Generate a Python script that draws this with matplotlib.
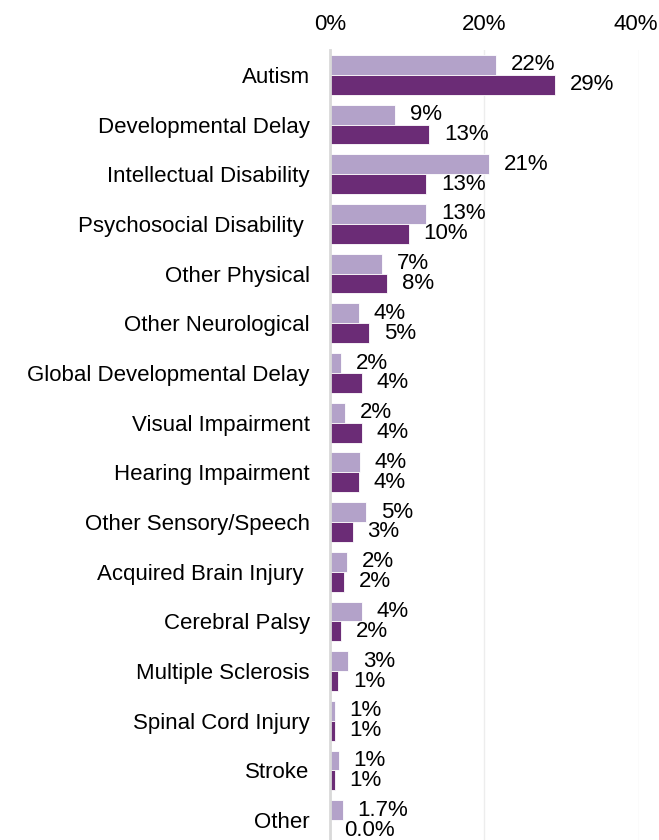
import matplotlib
matplotlib.use("Agg")
import matplotlib.pyplot as plt
import matplotlib.transforms as mtransforms

plt.rcParams['font.family'] = ['Liberation Sans', 'DejaVu Sans']

categories = ["Autism", "Developmental Delay", "Intellectual Disability",
              "Psychosocial Disability ", "Other Physical", "Other Neurological",
              "Global Developmental Delay", "Visual Impairment", "Hearing Impairment",
              "Other Sensory/Speech", "Acquired Brain Injury ", "Cerebral Palsy",
              "Multiple Sclerosis", "Spinal Cord Injury", "Stroke", "Other"]
series_a = [21.5, 8.5, 20.6, 12.5, 6.8, 3.8, 1.5, 2.0, 3.9, 4.7, 2.3, 4.2, 2.4, 0.65, 1.2, 1.7]
series_b = [29.2, 12.9, 12.5, 10.2, 7.4, 5.1, 4.2, 4.2, 3.8, 3.0, 1.9, 1.5, 1.1, 0.7, 0.7, 0.0]
labels_a = ["22%", "9%", "21%", "13%", "7%", "4%", "2%", "2%", "4%", "5%", "2%", "4%", "3%", "1%", "1%", "1.7%"]
labels_b = ["29%", "13%", "13%", "10%", "8%", "5%", "4%", "4%", "4%", "3%", "2%", "2%", "1%", "1%", "1%", "0.0%"]
xticks = [0, 20, 40]
xticklabels = ["0%", "20%", "40%"]

light = "#B3A2C9"
dark = "#6B2C76"

fig = plt.figure(figsize=(6.59, 8.4), dpi=100)
ax = fig.add_axes([329.7 / 659, 0.0, (639 - 329.7) / 659, 1 - 50 / 840])

h = 0.4
ys = list(range(len(categories)))
ya = [y - h / 2 for y in ys]
yb = [y + h / 2 for y in ys]
ax.barh(ya, series_a, height=h, color=light, edgecolor="white", linewidth=0.6, zorder=3)
ax.barh(yb, series_b, height=h, color=dark, edgecolor="white", linewidth=0.6, zorder=3)

fs = 16
for y, v, t in zip(ya, series_a, labels_a):
    ax.annotate(t, (v, y), xytext=(10.5, 0), textcoords="offset points",
                ha="left", va="center", fontsize=fs, color="#000000")
for y, v, t in zip(yb, series_b, labels_b):
    ax.annotate(t, (v, y), xytext=(10.5, 0), textcoords="offset points",
                ha="left", va="center", fontsize=fs, color="#000000")

ax.set_xlim(0, 40)
ax.set_ylim(15.4, -0.5)
ax.set_yticks(ys)
ax.set_yticklabels(categories, fontsize=fs, color="#000000")
ax.set_xticks(xticks)
ax.set_xticklabels(xticklabels, fontsize=fs, color="#000000")
ax.xaxis.tick_top()
ax.tick_params(axis="both", length=0)
ax.tick_params(axis="y", pad=14.4)
ax.tick_params(axis="x", pad=11)

# nudge the last top tick label slightly left so it stays inside the figure
lbl = ax.get_xticklabels()[-1]
lbl.set_transform(lbl.get_transform() + mtransforms.ScaledTranslation(-3 / 100, 0, fig.dpi_scale_trans))

for s in ["top", "right", "bottom"]:
    ax.spines[s].set_visible(False)
ax.spines["left"].set_color("#D9D9D9")
ax.spines["left"].set_linewidth(2)
ax.spines["left"].set_zorder(4)

ax.grid(axis="x", color="#EDEDED", linewidth=1, zorder=0)
ax.set_axisbelow(True)

fig.savefig("out.png", dpi=100)
